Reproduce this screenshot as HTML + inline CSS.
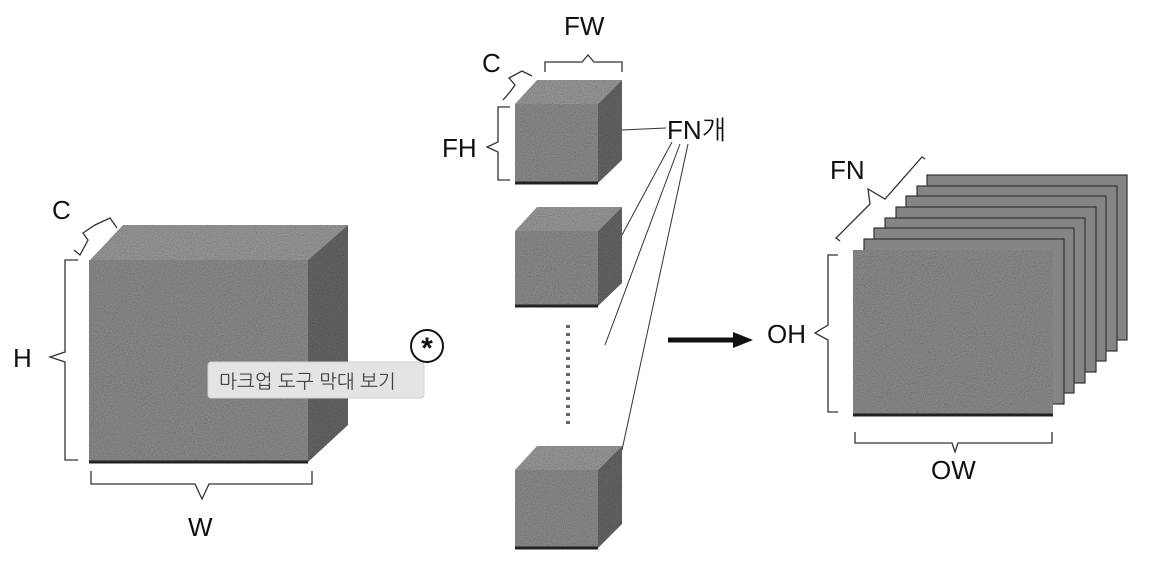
<!DOCTYPE html>
<html><head><meta charset="utf-8"><style>
body{margin:0;background:#fff;}
svg{display:block;font-family:"Liberation Sans","NanumGothic",sans-serif;}
</style></head><body>
<svg width="1155" height="580" viewBox="0 0 1155 580" xmlns="http://www.w3.org/2000/svg">
<defs>
<filter id="n" x="0" y="0" width="100%" height="100%">
<feTurbulence type="fractalNoise" baseFrequency="0.9" numOctaves="1" seed="3" result="t"/>
<feColorMatrix in="t" type="saturate" values="0" result="g"/>
<feComposite in="g" in2="SourceGraphic" operator="in" result="gm"/>
<feBlend in="SourceGraphic" in2="gm" mode="multiply"/>
</filter>
</defs>
<g fill="none" stroke="#333" stroke-width="1.3">
<!-- big cube -->
<g filter="url(#n)" stroke="none">
<polygon points="90,260 123,225 348,225 308,260" fill="#a0a0a0"/>
<polygon points="308,260 348,225 348,425 308,462" fill="#6a6a6a"/>
<rect x="89" y="260" width="219" height="202" fill="#929292"/>
</g>
<line x1="89" y1="462" x2="308" y2="462" stroke="#222" stroke-width="3"/>
<polyline points="74,250 80,255 88,240 83,233 95,225 110,218 117,228"/>
<text x="52" y="219" font-size="26" fill="#111" stroke="none">C</text>
<polyline points="78,260 65,260 65,352 50,357 65,362 65,460 78,460"/>
<text x="13" y="367" font-size="26" fill="#111" stroke="none">H</text>
<polyline points="91,471 91,484 195,484 202,499 209,484 312,484 312,471"/>
<text x="188" y="536" font-size="26" fill="#111" stroke="none">W</text>

<!-- small cubes -->
<g filter="url(#n)" stroke="none">
<polygon points="515,104 537,80 622,80 598,104" fill="#a0a0a0"/>
<polygon points="598,104 622,80 622,160 598,183" fill="#6a6a6a"/>
<rect x="515" y="104" width="83" height="79" fill="#929292"/>
<polygon points="515,231 537,207 622,207 598,231" fill="#a0a0a0"/>
<polygon points="598,231 622,207 622,283 598,306" fill="#6a6a6a"/>
<rect x="515" y="231" width="83" height="75" fill="#929292"/>
<polygon points="515,470 537,446 622,446 598,470" fill="#a0a0a0"/>
<polygon points="598,470 622,446 622,524 598,548" fill="#6a6a6a"/>
<rect x="515" y="470" width="83" height="78" fill="#929292"/>
</g>
<line x1="515" y1="183" x2="598" y2="183" stroke="#222" stroke-width="3"/>
<line x1="515" y1="306" x2="598" y2="306" stroke="#222" stroke-width="3"/>
<line x1="515" y1="548" x2="598" y2="548" stroke="#222" stroke-width="3"/>
<line x1="568" y1="325" x2="568" y2="428" stroke="#666" stroke-width="4" stroke-dasharray="3,5"/>
<polyline points="545,72 545,62 582,62 588,55 594,62 622,62 622,72"/>
<text x="564" y="35" font-size="26" fill="#111" stroke="none">FW</text>
<polyline points="503,100 510,92 515,85 509,78 522,71 532,76"/>
<text x="482" y="72" font-size="26" fill="#111" stroke="none">C</text>
<polyline points="510,107 498,107 498,142 487,147 498,152 498,180 510,180"/>
<text x="442" y="157" font-size="26" fill="#111" stroke="none">FH</text>
<text x="667" y="139" font-size="26" fill="#111" stroke="none">FN개</text>
<g stroke-width="1">
<line x1="622" y1="130" x2="666" y2="128"/>
<line x1="622" y1="235" x2="672" y2="142"/>
<line x1="605" y1="345" x2="680" y2="144"/>
<line x1="622" y1="450" x2="688" y2="144"/>
</g>
<line x1="668" y1="340" x2="735" y2="340" stroke="#111" stroke-width="5"/>
<polygon points="733,332 753,340 733,348" fill="#111" stroke="none"/>

<!-- stack -->
<g stroke="#333" stroke-width="1.2" fill="#858585">
<rect x="927" y="175" width="200" height="165"/>
<rect x="917" y="186" width="200" height="165"/>
<rect x="906" y="196" width="200" height="165"/>
<rect x="896" y="207" width="200" height="165"/>
<rect x="885" y="218" width="200" height="165"/>
<rect x="874" y="228" width="200" height="165"/>
<rect x="864" y="239" width="200" height="165"/>
</g>
<rect x="853" y="250" width="200" height="165" fill="#929292" filter="url(#n)" stroke="none"/>
<line x1="853" y1="415" x2="1053" y2="415" stroke="#222" stroke-width="3"/>
<polyline points="840,241 836,238 870,204 868,189 885,199 922,157 925,159"/>
<text x="830" y="179" font-size="26" fill="#111" stroke="none">FN</text>
<polyline points="838,255 828,255 828,325 815,333 828,340 828,412 838,412"/>
<text x="767" y="343" font-size="26" fill="#111" stroke="none">OH</text>
<polyline points="855,432 855,443 952,443 955,452 958,443 1052,443 1052,432"/>
<text x="931" y="479" font-size="26" fill="#111" stroke="none">OW</text>
</g>
<rect x="208" y="362" width="216" height="36" rx="3" fill="#e4e4e4" stroke="#d0d0d0" stroke-width="1"/>
<text x="219" y="388" font-size="19" fill="#444" font-family="NanumGothic,'Noto Sans CJK KR',sans-serif">마크업 도구 막대 보기</text>
<circle cx="427" cy="346" r="16" fill="#fff" stroke="#111" stroke-width="2"/>
<text x="427" y="358" font-size="30" font-weight="bold" text-anchor="middle" fill="#111">*</text>
</svg>
</body></html>
